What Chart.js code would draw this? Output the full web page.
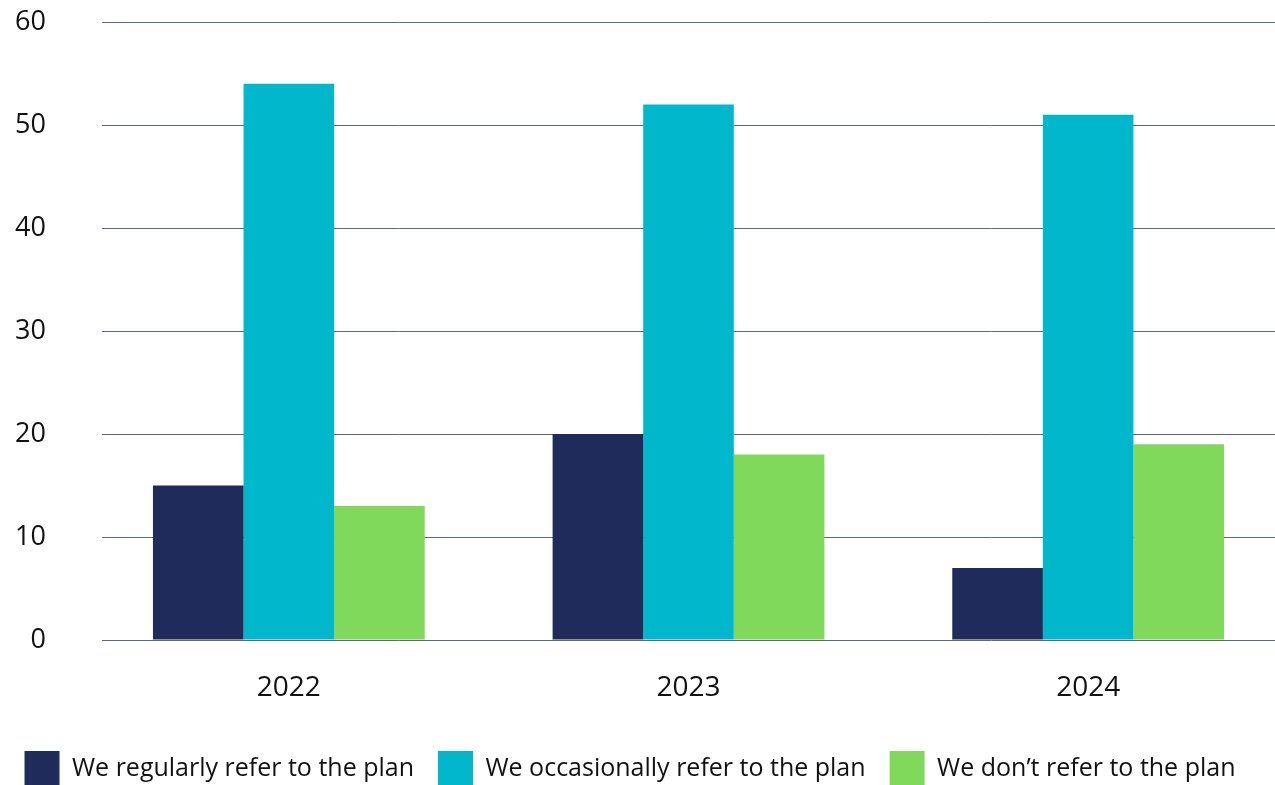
<!DOCTYPE html>
<html>
<head>
<meta charset="utf-8">
<script src="https://cdn.jsdelivr.net/npm/chart.js@4"></script>
<style>
  html, body { margin: 0; padding: 0; background: #fff; overflow: hidden; }
  #wrap { width: 1275px; height: 785px; overflow: hidden; }
</style>
</head>
<body>
<div id="wrap">
  <canvas id="grafico" width="1290" height="796"></canvas>
</div>
<script>
// categorie e valori delle serie
const anni = ['2022', '2023', '2024'];
const regolarmente = [15, 20, 7];
const occasionalmente = [54, 52, 51];
const mai = [13, 18, 19];
const etichetteY = [0, 10, 20, 30, 40, 50, 60];

const FONT = 'Open Sans';
const COLORE_GRIGLIA = '#5d668a';

// linee orizzontali della griglia, partono poco dopo il bordo dell'asse
const griglia = {
    id: 'griglia',
    beforeDatasetsDraw: function (chart) {
        const ctx = chart.ctx;
        const y = chart.scales.y;
        const area = chart.chartArea;
        ctx.save();
        ctx.strokeStyle = COLORE_GRIGLIA;
        ctx.lineWidth = 1;
        y.ticks.forEach(function (t) {
            const py = Math.round(y.getPixelForValue(t.value)) + 0.5;
            ctx.beginPath();
            ctx.moveTo(area.left + 13, py);
            ctx.lineTo(area.right, py);
            ctx.stroke();
        });
        ctx.restore();
    }
};

// sposta la legenda un po' a sinistra dopo il layout
const spostaLegenda = {
    id: 'spostaLegenda',
    afterLayout: function (chart) {
        chart.legend.left -= 14;
        chart.legend.right -= 14;
    }
};

new Chart(document.getElementById('grafico').getContext('2d'), {
    type: 'bar',
    data: {
        labels: anni,
        datasets: [
            { label: 'We regularly refer to the plan', data: regolarmente, backgroundColor: '#1f2b5b' },
            { label: 'We occasionally refer to the plan', data: occasionalmente, backgroundColor: '#00b7cb' },
            { label: 'We don\u2019t refer to the plan', data: mai, backgroundColor: '#80d95a' }
        ]
    },
    options: {
        responsive: false,
        animation: false,
        layout: { padding: { left: 0, right: 2, top: 22, bottom: 0 } },
        datasets: {
            bar: { categoryPercentage: 0.68, barPercentage: 1.0, borderWidth: 0 }
        },
        scales: {
            x: {
                grid: { display: false },
                border: { display: false },
                ticks: { color: '#111', font: { family: FONT, size: 28 }, padding: 23 },
                afterFit: function (scale) { scale.height = 87; }
            },
            y: {
                min: 0,
                max: 60,
                afterBuildTicks: function (scale) {
                    scale.ticks = etichetteY.map(v => ({ value: v }));
                },
                grid: { drawOnChartArea: false, drawTicks: true, tickLength: 43, tickColor: 'rgba(0,0,0,0)' },
                border: { display: false },
                ticks: { color: '#111', font: { family: FONT, size: 27 }, padding: 0 },
                afterFit: function (scale) { scale.width = 89; }
            }
        },
        plugins: {
            legend: {
                position: 'bottom',
                labels: {
                    boxWidth: 35,
                    boxHeight: 35,
                    padding: 24,
                    color: '#111',
                    font: { family: FONT, size: 25 }
                }
            },
            tooltip: { enabled: false }
        }
    },
    plugins: [griglia, spostaLegenda]
});
</script>
</body>
</html>
